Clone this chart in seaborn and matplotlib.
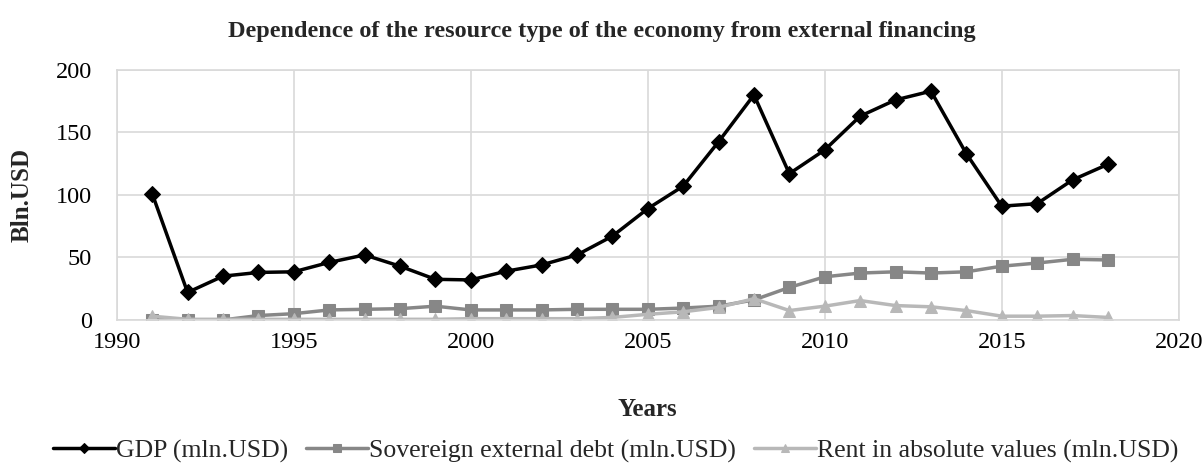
import numpy as np
import pandas as pd
import matplotlib
matplotlib.use("Agg")
import matplotlib.pyplot as plt
import seaborn as sns

years = list(range(1991, 2019))
gdp = [101, 22, 35, 38, 38.5, 46, 52, 43, 32.5, 32, 39, 44, 52, 67, 89, 107, 142.5, 180,
       117, 136, 163, 176, 183, 133, 91, 93, 112, 124.5]
debt = [0, 0, 0, 3.5, 5, 8, 8.5, 9, 11, 8, 8, 8, 8.5, 8.5, 8.5, 9.5, 11, 16,
        26, 34.5, 37.5, 38.5, 37.5, 38.5, 43, 45.5, 48.5, 48]
rent = [3, 0.5, 0.5, 0.5, 0.5, 0.5, 0.5, 0.5, 0.5, 1, 1, 1, 1, 2, 4.5, 6.5, 10, 17,
        7.5, 11, 15.5, 11.5, 10.5, 7.5, 3, 3, 3.5, 2]
series_names = ["GDP (mln.USD)", "Sovereign external debt (mln.USD)",
                "Rent in absolute values (mln.USD)"]

sns.set_theme(style="white")
plt.rcParams['font.family'] = ['Liberation Serif', 'DejaVu Serif']

fig = plt.figure(figsize=(12.04, 4.63), dpi=100)
ax = fig.add_axes([0.097, 0.309, 0.882, 0.540])

styles = [("black", "D", 8), ("#878787", "s", 9), ("#b8b8b8", "^", 9)]
for name, vals, (c, m, ms) in zip(series_names, [gdp, debt, rent], styles):
    df = pd.DataFrame({"Year": years, "Value": vals})
    sns.lineplot(data=df, x="Year", y="Value", ax=ax, color=c, marker=m,
                 markersize=ms, markeredgecolor=c, linewidth=2.5, label=name)

ax.set_xlim(1990, 2020)
ax.set_ylim(0, 200)
ax.set_xticks(range(1990, 2021, 5))
ax.set_yticks(range(0, 201, 50))
ax.grid(True, color="#d9d9d9", linewidth=1.2)
for s in ax.spines.values():
    s.set_color("#d9d9d9")
    s.set_linewidth(1.2)
ax.tick_params(axis="both", labelsize=17.5, length=0, colors="black")
ax.tick_params(axis="x", pad=9)
ax.tick_params(axis="y", pad=18)
ax.set_xlabel("Years", fontsize=18, fontweight="bold", labelpad=32)
ax.set_ylabel("Bln.USD", fontsize=18, fontweight="bold", labelpad=16)
fig.suptitle("Dependence of the resource type of the economy from external financing",
             fontsize=17.5, fontweight="bold", y=0.955)

ax.legend(loc="center", bbox_to_anchor=(0.47, -0.525), ncol=3, frameon=False,
          fontsize=18.5, handlelength=2.4, handletextpad=0.05, columnspacing=0.7,
          borderaxespad=0, markerscale=0.7)

fig.savefig("out.png", dpi=100)
